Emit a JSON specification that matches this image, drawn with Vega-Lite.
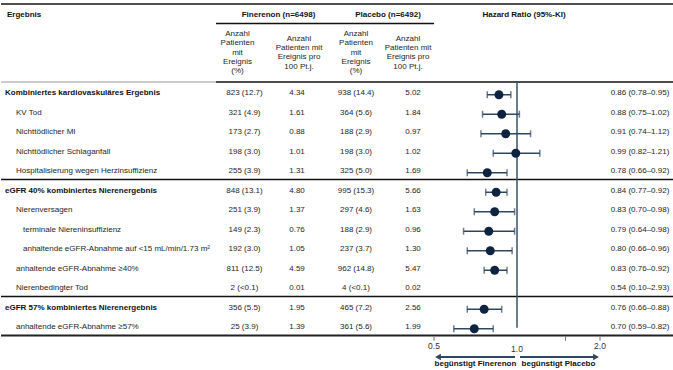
{
  "$schema": "https://vega.github.io/schema/vega-lite/v6.json",
  "padding": {"top": 3, "left": 0, "right": 0, "bottom": 0},
  "spacing": 0,
  "bounds": "flush",
  "config": {
    "view": {"stroke": null},
    "font": "Liberation Sans",
    "text": {"font": "Liberation Sans", "fontSize": 8, "color": "#1e1e1e"}
  },
  "datasets": {
    "rows": [
      {"row": "r0", "level": 0, "label": "Kombiniertes kardiovaskuläres Ergebnis", "finN": "823 (12.7)", "finRate": "4.34", "plaN": "938 (14.4)", "plaRate": "5.02", "hr": 0.86, "lo": 0.78, "hi": 0.95, "hrText": "0.86 (0.78–0.95)"},
      {"row": "r1", "level": 1, "label": "KV Tod", "finN": "321 (4.9)", "finRate": "1.61", "plaN": "364 (5.6)", "plaRate": "1.84", "hr": 0.88, "lo": 0.75, "hi": 1.02, "hrText": "0.88 (0.75–1.02)"},
      {"row": "r2", "level": 1, "label": "Nichttödlicher MI", "finN": "173 (2.7)", "finRate": "0.88", "plaN": "188 (2.9)", "plaRate": "0.97", "hr": 0.91, "lo": 0.74, "hi": 1.12, "hrText": "0.91 (0.74–1.12)"},
      {"row": "r3", "level": 1, "label": "Nichttödlicher Schlaganfall", "finN": "198 (3.0)", "finRate": "1.01", "plaN": "198 (3.0)", "plaRate": "1.02", "hr": 0.99, "lo": 0.82, "hi": 1.21, "hrText": "0.99 (0.82–1.21)"},
      {"row": "r4", "level": 1, "label": "Hospitalisierung wegen Herzinsuffizienz", "finN": "255 (3.9)", "finRate": "1.31", "plaN": "325 (5.0)", "plaRate": "1.69", "hr": 0.78, "lo": 0.66, "hi": 0.92, "hrText": "0.78 (0.66–0.92)"},
      {"row": "r5", "level": 0, "label": "eGFR 40% kombiniertes Nierenergebnis", "finN": "848 (13.1)", "finRate": "4.80", "plaN": "995 (15.3)", "plaRate": "5.66", "hr": 0.84, "lo": 0.77, "hi": 0.92, "hrText": "0.84 (0.77–0.92)"},
      {"row": "r6", "level": 1, "label": "Nierenversagen", "finN": "251 (3.9)", "finRate": "1.37", "plaN": "297 (4.6)", "plaRate": "1.63", "hr": 0.83, "lo": 0.70, "hi": 0.98, "hrText": "0.83 (0.70–0.98)"},
      {"row": "r7", "level": 2, "label": "terminale Niereninsuffizienz", "finN": "149 (2.3)", "finRate": "0.76", "plaN": "188 (2.9)", "plaRate": "0.96", "hr": 0.79, "lo": 0.64, "hi": 0.98, "hrText": "0.79 (0.64–0.98)"},
      {"row": "r8", "level": 2, "label": "anhaltende eGFR-Abnahme auf <15 mL/min/1.73 m²", "finN": "192 (3.0)", "finRate": "1.05", "plaN": "237 (3.7)", "plaRate": "1.30", "hr": 0.80, "lo": 0.66, "hi": 0.96, "hrText": "0.80 (0.66–0.96)"},
      {"row": "r9", "level": 1, "label": "anhaltende eGFR-Abnahme ≥40%", "finN": "811 (12.5)", "finRate": "4.59", "plaN": "962 (14.8)", "plaRate": "5.47", "hr": 0.83, "lo": 0.76, "hi": 0.92, "hrText": "0.83 (0.76–0.92)"},
      {"row": "r10", "level": 1, "label": "Nierenbedingter Tod", "finN": "2 (<0.1)", "finRate": "0.01", "plaN": "4 (<0.1)", "plaRate": "0.02", "hr": 0.54, "lo": 0.10, "hi": 2.93, "hrText": "0.54 (0.10–2.93)"},
      {"row": "r11", "level": 0, "label": "eGFR 57% kombiniertes Nierenergebnis", "finN": "356 (5.5)", "finRate": "1.95", "plaN": "465 (7.2)", "plaRate": "2.56", "hr": 0.76, "lo": 0.66, "hi": 0.88, "hrText": "0.76 (0.66–0.88)"},
      {"row": "r12", "level": 1, "label": "anhaltende eGFR-Abnahme ≥57%", "finN": "25 (3.9)", "finRate": "1.39", "plaN": "361 (5.6)", "plaRate": "1.99", "hr": 0.70, "lo": 0.59, "hi": 0.82, "hrText": "0.70 (0.59–0.82)"}
    ],
    "headers": [
      {"col": "label", "slot": "h0", "text": "Ergebnis"},
      {"col": "fin", "slot": "h0", "text": "Finerenon (n=6498)"},
      {"col": "pla", "slot": "h0", "text": "Placebo (n=6492)"},
      {"col": "hr", "slot": "h0", "text": "Hazard Ratio (95%-KI)"},
      {"col": "n", "slot": "h2", "text": "Anzahl\nPatienten\nmit\nEreignis\n(%)"},
      {"col": "rate", "slot": "h2", "text": "Anzahl\nPatienten mit\nEreignis pro\n100 Pt.j."}
    ],
    "ticks": [
      {"v": 0.5, "lab": "0.5"},
      {"v": 1, "lab": "1.0"},
      {"v": 1.5, "lab": ""},
      {"v": 2, "lab": "2.0"}
    ]
  },
  "hconcat": [
    {
      "width": 215, "height": 351,
      "data": {"values": [{}]},
      "layer": [
        {"mark": {"type": "rule", "color": "#505050", "strokeWidth": 2}, "encoding": {"y": {"datum": "h0", "type": "nominal", "bandPosition": 0, "axis": null, "scale": {"type": "band", "domain": ["h0","h1","h2","h3","r0","r1","r2","r3","r4","r5","r6","r7","r8","r9","r10","r11","r12","f0"], "paddingInner": 0, "paddingOuter": 0}}}},
        {"mark": {"type": "rule", "color": "#9a9a9a", "strokeWidth": 1}, "encoding": {"y": {"datum": "r0", "type": "nominal", "bandPosition": 0, "axis": null}}},
        {"mark": {"type": "rule", "color": "#111", "strokeWidth": 1.5}, "encoding": {"y": {"datum": "r5", "type": "nominal", "bandPosition": 0, "axis": null}}},
        {"mark": {"type": "rule", "color": "#111", "strokeWidth": 1.5}, "encoding": {"y": {"datum": "r11", "type": "nominal", "bandPosition": 0, "axis": null}}},
        {"mark": {"type": "rule", "color": "#222", "strokeWidth": 2}, "encoding": {"y": {"datum": "f0", "type": "nominal", "bandPosition": 0, "axis": null}}},
        {"data": {"name": "headers"}, "transform": [{"filter": "datum.col == 'label'"}], "mark": {"type": "text", "align": "left", "x": 0, "dx": 6, "dy": 1, "fontWeight": "bold", "color": "#111"}, "encoding": {"y": {"field": "slot", "type": "nominal", "axis": null}, "text": {"field": "text"}}},
        {"data": {"name": "rows"}, "transform": [{"filter": "datum.level == 0"}], "mark": {"type": "text", "align": "left", "x": 0, "dx": 4, "dy": 1.5, "fontWeight": "bold", "color": "#111"}, "encoding": {"y": {"field": "row", "type": "nominal", "axis": null}, "text": {"field": "label"}}},
        {"data": {"name": "rows"}, "transform": [{"filter": "datum.level == 1"}], "mark": {"type": "text", "align": "left", "x": 0, "dx": 15, "dy": 1.5}, "encoding": {"y": {"field": "row", "type": "nominal", "axis": null}, "text": {"field": "label"}}},
        {"data": {"name": "rows"}, "transform": [{"filter": "datum.level == 2"}], "mark": {"type": "text", "align": "left", "x": 0, "dx": 22, "dy": 1.5}, "encoding": {"y": {"field": "row", "type": "nominal", "axis": null}, "text": {"field": "label"}}}
      ]
    },
    {
      "width": 57, "height": 351,
      "data": {"values": [{}]},
      "layer": [
        {"mark": {"type": "rule", "color": "#505050", "strokeWidth": 2}, "encoding": {"y": {"datum": "h0", "type": "nominal", "bandPosition": 0, "axis": null, "scale": {"type": "band", "domain": ["h0","h1","h2","h3","r0","r1","r2","r3","r4","r5","r6","r7","r8","r9","r10","r11","r12","f0"], "paddingInner": 0, "paddingOuter": 0}}}},
        {"mark": {"type": "rule", "color": "#111", "strokeWidth": 1.5}, "encoding": {"y": {"datum": "h1", "type": "nominal", "bandPosition": 0, "axis": null}}},
        {"mark": {"type": "rule", "color": "#111", "strokeWidth": 1.5}, "encoding": {"y": {"datum": "r0", "type": "nominal", "bandPosition": 0, "axis": null}}},
        {"mark": {"type": "rule", "color": "#111", "strokeWidth": 1.5}, "encoding": {"y": {"datum": "r5", "type": "nominal", "bandPosition": 0, "axis": null}}},
        {"mark": {"type": "rule", "color": "#111", "strokeWidth": 1.5}, "encoding": {"y": {"datum": "r11", "type": "nominal", "bandPosition": 0, "axis": null}}},
        {"mark": {"type": "rule", "color": "#222", "strokeWidth": 2}, "encoding": {"y": {"datum": "f0", "type": "nominal", "bandPosition": 0, "axis": null}}},
        {"data": {"name": "headers"}, "transform": [{"filter": "datum.col == 'fin'"}], "mark": {"type": "text", "dx": 34, "dy": 1, "fontWeight": "bold", "color": "#111"}, "encoding": {"y": {"field": "slot", "type": "nominal", "axis": null}, "text": {"field": "text"}}},
        {"data": {"name": "headers"}, "transform": [{"filter": "datum.col == 'n'"}], "mark": {"type": "text", "dx": -7, "dy": -18.6, "lineBreak": "\n", "lineHeight": 9.3}, "encoding": {"y": {"field": "slot", "type": "nominal", "axis": null}, "text": {"field": "text"}}},
        {"data": {"name": "rows"}, "mark": {"type": "text", "dy": 1.5}, "encoding": {"y": {"field": "row", "type": "nominal", "axis": null}, "text": {"field": "finN"}}}
      ]
    },
    {
      "width": 68, "height": 351,
      "data": {"values": [{}]},
      "layer": [
        {"mark": {"type": "rule", "color": "#505050", "strokeWidth": 2}, "encoding": {"y": {"datum": "h0", "type": "nominal", "bandPosition": 0, "axis": null, "scale": {"type": "band", "domain": ["h0","h1","h2","h3","r0","r1","r2","r3","r4","r5","r6","r7","r8","r9","r10","r11","r12","f0"], "paddingInner": 0, "paddingOuter": 0}}}},
        {"mark": {"type": "rule", "color": "#111", "strokeWidth": 1.5}, "encoding": {"y": {"datum": "h1", "type": "nominal", "bandPosition": 0, "axis": null}}},
        {"mark": {"type": "rule", "color": "#111", "strokeWidth": 1.5}, "encoding": {"y": {"datum": "r0", "type": "nominal", "bandPosition": 0, "axis": null}}},
        {"mark": {"type": "rule", "color": "#111", "strokeWidth": 1.5}, "encoding": {"y": {"datum": "r5", "type": "nominal", "bandPosition": 0, "axis": null}}},
        {"mark": {"type": "rule", "color": "#111", "strokeWidth": 1.5}, "encoding": {"y": {"datum": "r11", "type": "nominal", "bandPosition": 0, "axis": null}}},
        {"mark": {"type": "rule", "color": "#222", "strokeWidth": 2}, "encoding": {"y": {"datum": "f0", "type": "nominal", "bandPosition": 0, "axis": null}}},
        {"data": {"name": "headers"}, "transform": [{"filter": "datum.col == 'rate'"}], "mark": {"type": "text", "dx": -8, "dy": -14, "lineBreak": "\n", "lineHeight": 9.3}, "encoding": {"y": {"field": "slot", "type": "nominal", "axis": null}, "text": {"field": "text"}}},
        {"data": {"name": "rows"}, "mark": {"type": "text", "dx": -10, "dy": 1.5}, "encoding": {"y": {"field": "row", "type": "nominal", "axis": null}, "text": {"field": "finRate"}}}
      ]
    },
    {
      "width": 30, "height": 351,
      "data": {"values": [{}]},
      "layer": [
        {"mark": {"type": "rule", "color": "#505050", "strokeWidth": 2}, "encoding": {"y": {"datum": "h0", "type": "nominal", "bandPosition": 0, "axis": null, "scale": {"type": "band", "domain": ["h0","h1","h2","h3","r0","r1","r2","r3","r4","r5","r6","r7","r8","r9","r10","r11","r12","f0"], "paddingInner": 0, "paddingOuter": 0}}}},
        {"mark": {"type": "rule", "color": "#111", "strokeWidth": 1.5}, "encoding": {"y": {"datum": "h1", "type": "nominal", "bandPosition": 0, "axis": null}}},
        {"mark": {"type": "rule", "color": "#111", "strokeWidth": 1.5}, "encoding": {"y": {"datum": "r0", "type": "nominal", "bandPosition": 0, "axis": null}}},
        {"mark": {"type": "rule", "color": "#111", "strokeWidth": 1.5}, "encoding": {"y": {"datum": "r5", "type": "nominal", "bandPosition": 0, "axis": null}}},
        {"mark": {"type": "rule", "color": "#111", "strokeWidth": 1.5}, "encoding": {"y": {"datum": "r11", "type": "nominal", "bandPosition": 0, "axis": null}}},
        {"mark": {"type": "rule", "color": "#222", "strokeWidth": 2}, "encoding": {"y": {"datum": "f0", "type": "nominal", "bandPosition": 0, "axis": null}}},
        {"data": {"name": "headers"}, "transform": [{"filter": "datum.col == 'pla'"}], "mark": {"type": "text", "dx": 32, "dy": 1, "fontWeight": "bold", "color": "#111"}, "encoding": {"y": {"field": "slot", "type": "nominal", "axis": null}, "text": {"field": "text"}}},
        {"data": {"name": "headers"}, "transform": [{"filter": "datum.col == 'n'"}], "mark": {"type": "text", "dy": -18.6, "lineBreak": "\n", "lineHeight": 9.3}, "encoding": {"y": {"field": "slot", "type": "nominal", "axis": null}, "text": {"field": "text"}}},
        {"data": {"name": "rows"}, "mark": {"type": "text", "dy": 1.5}, "encoding": {"y": {"field": "row", "type": "nominal", "axis": null}, "text": {"field": "plaN"}}}
      ]
    },
    {
      "width": 63, "height": 351,
      "data": {"values": [{}]},
      "layer": [
        {"mark": {"type": "rule", "color": "#505050", "strokeWidth": 2}, "encoding": {"y": {"datum": "h0", "type": "nominal", "bandPosition": 0, "axis": null, "scale": {"type": "band", "domain": ["h0","h1","h2","h3","r0","r1","r2","r3","r4","r5","r6","r7","r8","r9","r10","r11","r12","f0"], "paddingInner": 0, "paddingOuter": 0}}}},
        {"mark": {"type": "rule", "color": "#111", "strokeWidth": 1.5}, "encoding": {"y": {"datum": "h1", "type": "nominal", "bandPosition": 0, "axis": null}}},
        {"mark": {"type": "rule", "color": "#111", "strokeWidth": 1.5}, "encoding": {"y": {"datum": "r0", "type": "nominal", "bandPosition": 0, "axis": null}}},
        {"mark": {"type": "rule", "color": "#111", "strokeWidth": 1.5}, "encoding": {"y": {"datum": "r5", "type": "nominal", "bandPosition": 0, "axis": null}}},
        {"mark": {"type": "rule", "color": "#111", "strokeWidth": 1.5}, "encoding": {"y": {"datum": "r11", "type": "nominal", "bandPosition": 0, "axis": null}}},
        {"mark": {"type": "rule", "color": "#222", "strokeWidth": 2}, "encoding": {"y": {"datum": "f0", "type": "nominal", "bandPosition": 0, "axis": null}}},
        {"data": {"name": "headers"}, "transform": [{"filter": "datum.col == 'rate'"}], "mark": {"type": "text", "dx": 5.5, "dy": -14, "lineBreak": "\n", "lineHeight": 9.3}, "encoding": {"y": {"field": "slot", "type": "nominal", "axis": null}, "text": {"field": "text"}}},
        {"data": {"name": "rows"}, "mark": {"type": "text", "dx": 10.5, "dy": 1.5}, "encoding": {"y": {"field": "row", "type": "nominal", "axis": null}, "text": {"field": "plaRate"}}}
      ]
    },
    {
      "width": 166, "height": 351,
      "data": {"values": [{}]},
      "layer": [
        {"mark": {"type": "rule", "color": "#505050", "strokeWidth": 2}, "encoding": {"y": {"datum": "h0", "type": "nominal", "bandPosition": 0, "axis": null, "scale": {"type": "band", "domain": ["h0","h1","h2","h3","r0","r1","r2","r3","r4","r5","r6","r7","r8","r9","r10","r11","r12","f0"], "paddingInner": 0, "paddingOuter": 0}}}},
        {"mark": {"type": "rule", "color": "#111", "strokeWidth": 1.5}, "encoding": {"y": {"datum": "r0", "type": "nominal", "bandPosition": 0, "axis": null}}},
        {"mark": {"type": "rule", "color": "#111", "strokeWidth": 1.5}, "encoding": {"y": {"datum": "r5", "type": "nominal", "bandPosition": 0, "axis": null}}},
        {"mark": {"type": "rule", "color": "#111", "strokeWidth": 1.5}, "encoding": {"y": {"datum": "r11", "type": "nominal", "bandPosition": 0, "axis": null}}},
        {"mark": {"type": "rule", "color": "#222", "strokeWidth": 2}, "encoding": {"y": {"datum": "f0", "type": "nominal", "bandPosition": 0, "axis": null}}},
        {"data": {"name": "headers"}, "transform": [{"filter": "datum.col == 'hr'"}], "mark": {"type": "text", "dx": 7, "dy": 1, "fontWeight": "bold", "color": "#111"}, "encoding": {"y": {"field": "slot", "type": "nominal", "axis": null}, "text": {"field": "text"}}},
        {"mark": {"type": "rule", "color": "#3b5068", "strokeWidth": 1.5, "y2Offset": -17.5}, "encoding": {"x": {"datum": 1, "type": "quantitative", "axis": null, "scale": {"type": "log", "domain": [0.5, 2], "nice": false}}, "y": {"datum": "r0", "type": "nominal", "bandPosition": 0, "axis": null}, "y2": {"datum": "f0"}}},
        {"data": {"name": "rows"}, "transform": [{"filter": "datum.lo >= 0.5 && datum.hi <= 2"}], "mark": {"type": "rule", "color": "#2e4660", "strokeWidth": 1.5, "yOffset": 3}, "encoding": {"x": {"field": "lo", "type": "quantitative"}, "x2": {"field": "hi"}, "y": {"field": "row", "type": "nominal", "axis": null}}},
        {"data": {"name": "rows"}, "transform": [{"filter": "datum.lo >= 0.5 && datum.hi <= 2"}], "mark": {"type": "tick", "color": "#2e4660", "thickness": 1.5, "size": 7, "orient": "vertical", "yOffset": 3}, "encoding": {"x": {"field": "lo", "type": "quantitative"}, "y": {"field": "row", "type": "nominal", "axis": null}}},
        {"data": {"name": "rows"}, "transform": [{"filter": "datum.lo >= 0.5 && datum.hi <= 2"}], "mark": {"type": "tick", "color": "#2e4660", "thickness": 1.5, "size": 7, "orient": "vertical", "yOffset": 3}, "encoding": {"x": {"field": "hi", "type": "quantitative"}, "y": {"field": "row", "type": "nominal", "axis": null}}},
        {"data": {"name": "rows"}, "transform": [{"filter": "datum.lo >= 0.5 && datum.hi <= 2"}], "mark": {"type": "circle", "color": "#0d2340", "opacity": 1, "size": 80, "yOffset": 3}, "encoding": {"x": {"field": "hr", "type": "quantitative"}, "y": {"field": "row", "type": "nominal", "axis": null}}},
        {"data": {"name": "ticks"}, "transform": [{"filter": "datum.v != 1"}], "mark": {"type": "tick", "color": "#333", "thickness": 1, "size": 4, "orient": "vertical", "yOffset": -6.5}, "encoding": {"x": {"field": "v", "type": "quantitative"}, "y": {"datum": "f0", "type": "nominal", "axis": null}}},
        {"data": {"name": "ticks"}, "transform": [{"filter": "datum.v != 1"}], "mark": {"type": "text", "dy": 1, "fontSize": 8.5, "color": "#333"}, "encoding": {"x": {"field": "v", "type": "quantitative"}, "y": {"datum": "f0", "type": "nominal", "axis": null}, "text": {"field": "lab"}}},
        {"data": {"name": "ticks"}, "transform": [{"filter": "datum.v == 1"}], "mark": {"type": "text", "dy": 4, "fontSize": 8.5, "color": "#333"}, "encoding": {"x": {"field": "v", "type": "quantitative"}, "y": {"datum": "f0", "type": "nominal", "axis": null}, "text": {"field": "lab"}}},
        {"mark": {"type": "rule", "color": "#2e4660", "strokeWidth": 2, "yOffset": 11.75, "xOffset": -2, "x2Offset": 3}, "encoding": {"x": {"datum": 1, "type": "quantitative"}, "x2": {"datum": 0.5}, "y": {"datum": "f0", "type": "nominal", "axis": null}}},
        {"mark": {"type": "rule", "color": "#2e4660", "strokeWidth": 2, "yOffset": 11.75, "xOffset": 3, "x2Offset": -3}, "encoding": {"x": {"datum": 1, "type": "quantitative"}, "x2": {"datum": 2}, "y": {"datum": "f0", "type": "nominal", "axis": null}}},
        {"mark": {"type": "point", "shape": "triangle-left", "filled": true, "opacity": 1, "color": "#2e4660", "size": 45, "yOffset": 11.75, "xOffset": 4}, "encoding": {"x": {"datum": 0.5, "type": "quantitative"}, "y": {"datum": "f0", "type": "nominal", "axis": null}}},
        {"mark": {"type": "point", "shape": "triangle-right", "filled": true, "opacity": 1, "color": "#2e4660", "size": 45, "yOffset": 11.75, "xOffset": -4}, "encoding": {"x": {"datum": 2, "type": "quantitative"}, "y": {"datum": "f0", "type": "nominal", "axis": null}}},
        {"mark": {"type": "text", "text": "begünstigt Finerenon", "fontWeight": "bold", "color": "#111", "yOffset": 18.75}, "encoding": {"x": {"datum": 0.7071, "type": "quantitative"}, "y": {"datum": "f0", "type": "nominal", "axis": null}}},
        {"mark": {"type": "text", "text": "begünstigt Placebo", "fontWeight": "bold", "color": "#111", "yOffset": 18.75}, "encoding": {"x": {"datum": 1.4142, "type": "quantitative"}, "y": {"datum": "f0", "type": "nominal", "axis": null}}}
      ]
    },
    {
      "width": 74, "height": 351,
      "data": {"values": [{}]},
      "layer": [
        {"mark": {"type": "rule", "color": "#505050", "strokeWidth": 2}, "encoding": {"y": {"datum": "h0", "type": "nominal", "bandPosition": 0, "axis": null, "scale": {"type": "band", "domain": ["h0","h1","h2","h3","r0","r1","r2","r3","r4","r5","r6","r7","r8","r9","r10","r11","r12","f0"], "paddingInner": 0, "paddingOuter": 0}}}},
        {"mark": {"type": "rule", "color": "#111", "strokeWidth": 1.5}, "encoding": {"y": {"datum": "r0", "type": "nominal", "bandPosition": 0, "axis": null}}},
        {"mark": {"type": "rule", "color": "#111", "strokeWidth": 1.5}, "encoding": {"y": {"datum": "r5", "type": "nominal", "bandPosition": 0, "axis": null}}},
        {"mark": {"type": "rule", "color": "#111", "strokeWidth": 1.5}, "encoding": {"y": {"datum": "r11", "type": "nominal", "bandPosition": 0, "axis": null}}},
        {"mark": {"type": "rule", "color": "#222", "strokeWidth": 2}, "encoding": {"y": {"datum": "f0", "type": "nominal", "bandPosition": 0, "axis": null}}},
        {"data": {"name": "rows"}, "mark": {"type": "text", "dx": 3, "dy": 1.5}, "encoding": {"y": {"field": "row", "type": "nominal", "axis": null}, "text": {"field": "hrText"}}}
      ]
    }
  ]
}
